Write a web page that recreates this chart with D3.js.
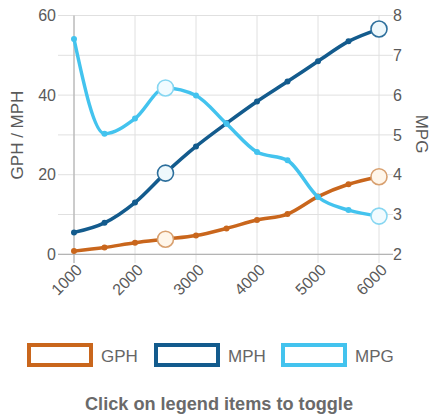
<!DOCTYPE html>
<html><head><meta charset="utf-8">
<script src="https://cdn.jsdelivr.net/npm/d3@7"></script>
<style>
html,body{margin:0;padding:0;background:#fff;}
svg{display:block;font-family:"Liberation Sans",Arial,sans-serif;}
</style></head>
<body><svg id="c" width="432" height="414"></svg>
<script>
const rpm = [1000,1500,2000,2500,3000,3500,4000,4500,5000,5500,6000];
const gph = [0.8,1.7,2.9,3.8,4.7,6.5,8.6,10.1,14.5,17.6,19.5];
const mph = [5.5,7.9,13.0,20.4,27.1,32.9,38.4,43.4,48.5,53.5,56.6];
const mpg = [7.41,5.03,5.41,6.18,5.99,5.28,4.57,4.36,3.44,3.11,2.96];
const xTicks = [1000,2000,3000,4000,5000,6000];
const yLeftTicks = [0,20,40,60];
const yRightTicks = [2,3,4,5,6,7,8];
const highlighted = [2500,6000];
const seriesNames = ["GPH","MPH","MPG"];
const colors = {GPH:"#c9661c", MPH:"#135b8d", MPG:"#43c3ee"};
const ringStroke = {GPH:"#d8a06f", MPH:"#2d6f9c", MPG:"#86d6f1"};
const ringFill = {GPH:"#fff6ea", MPH:"#eef8fc", MPG:"#f1fbff"};

const svg = d3.select("#c");
const x = d3.scaleLinear().domain([1000,6000]).range([74,379]);
const yL = d3.scaleLinear().domain([0,60]).range([254.3,15.5]);
const yR = d3.scaleLinear().domain([2,8]).range([254.3,15.5]);

// gridlines
const g = svg.append("g");
g.selectAll(".hg").data(yRightTicks).join("line")
  .attr("x1",58).attr("x2",393)
  .attr("y1",d=>yR(d)).attr("y2",d=>yR(d))
  .attr("stroke","#e0e0e0").attr("stroke-width",1);
g.selectAll(".vg").data(xTicks).join("line")
  .attr("x1",d=>x(d)).attr("x2",d=>x(d))
  .attr("y1",15.5).attr("y2",263)
  .attr("stroke","#e0e0e0").attr("stroke-width",1);
// axis lines
g.append("line").attr("x1",x(1000)).attr("x2",x(1000)).attr("y1",15.5).attr("y2",263).attr("stroke","#a8a8a8");
g.append("line").attr("x1",58).attr("x2",393).attr("y1",yL(0)).attr("y2",yL(0)).attr("stroke","#a8a8a8");

// tick labels
const tc = "#5a5a5a";
svg.append("g").selectAll("text").data(yLeftTicks).join("text")
  .attr("x",56).attr("y",d=>yL(d)).attr("dy","0.36em")
  .attr("text-anchor","end").attr("font-size",16).attr("fill",tc).text(d=>d);
svg.append("g").selectAll("text").data(yRightTicks).join("text")
  .attr("x",393).attr("y",d=>yR(d)).attr("dy","0.36em")
  .attr("text-anchor","start").attr("font-size",16).attr("fill",tc).text(d=>d);
svg.append("g").selectAll("text").data(xTicks).join("text")
  .attr("transform",d=>`translate(${x(d)+5},${267}) rotate(-45)`)
  .attr("text-anchor","end").attr("dy","0.36em").attr("font-size",16).attr("fill",tc).text(d=>d);

// axis titles
svg.append("text").attr("transform","translate(23,135) rotate(-90)")
  .attr("text-anchor","middle").attr("font-size",17).attr("fill",tc).text("GPH / MPH");
svg.append("text").attr("transform","translate(416,134) rotate(90)")
  .attr("text-anchor","middle").attr("font-size",17).attr("fill",tc).text("MPG");

// series
const series = [
  {name:"GPH", vals:gph, y:yL},
  {name:"MPH", vals:mph, y:yL},
  {name:"MPG", vals:mpg, y:yR}
];
series.forEach(s=>{
  const pts = rpm.map((r,i)=>({r, v:s.vals[i]}));
  const line = d3.line().x(d=>x(d.r)).y(d=>s.y(d.v)).curve(d3.curveMonotoneX);
  svg.append("path").datum(pts).attr("d",line).attr("fill","none")
    .attr("stroke",colors[s.name]).attr("stroke-width",3.5).attr("stroke-linejoin","round");
  svg.append("g").selectAll("circle").data(pts).join("circle")
    .attr("cx",d=>x(d.r)).attr("cy",d=>s.y(d.v)).attr("r",3)
    .attr("fill",colors[s.name]);
});
series.forEach(s=>{
  const pts = rpm.map((r,i)=>({r, v:s.vals[i]})).filter(d=>highlighted.includes(d.r));
  svg.append("g").selectAll("circle").data(pts).join("circle")
    .attr("cx",d=>x(d.r)).attr("cy",d=>s.y(d.v)).attr("r",8)
    .attr("fill",ringFill[s.name]).attr("stroke",ringStroke[s.name]).attr("stroke-width",1.6);
});

// legend
const legX = [29,156,283];
const leg = svg.append("g");
seriesNames.forEach((n,i)=>{
  leg.append("rect").attr("x",legX[i]).attr("y",345).attr("width",62).attr("height",20)
    .attr("fill","#fff").attr("stroke",colors[n]).attr("stroke-width",4);
  leg.append("text").attr("x",legX[i]+72).attr("y",361.5).attr("font-size",17)
    .attr("fill","#666").text(n);
});
svg.append("text").attr("x",85).attr("y",410).attr("text-anchor","start")
  .attr("font-size",17.5).attr("font-weight","bold").attr("fill","#6a6a6a")
  .attr("textLength",268).attr("lengthAdjust","spacingAndGlyphs")
  .text("Click on legend items to toggle");
</script></body></html>
